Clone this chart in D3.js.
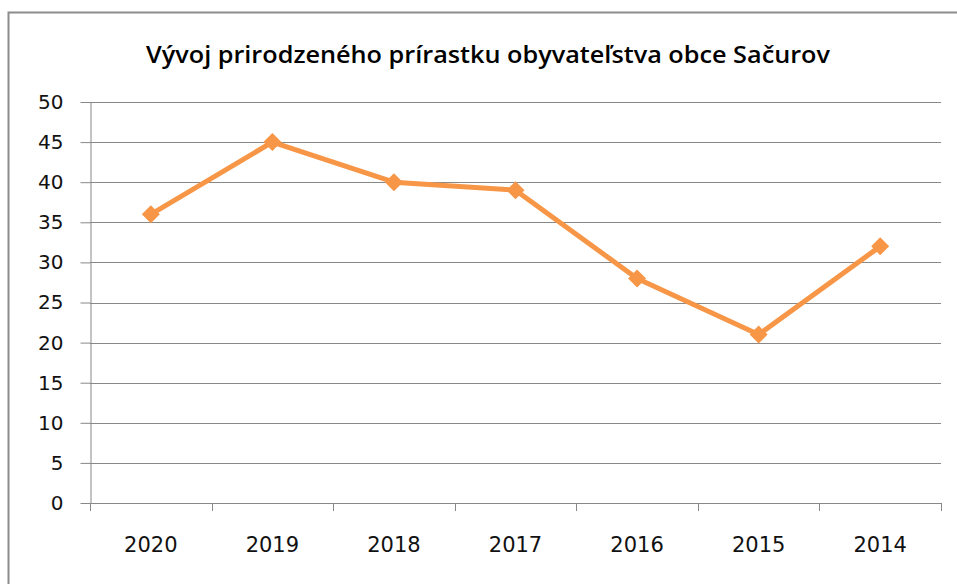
<!DOCTYPE html>
<html><head><meta charset="utf-8">
<script src="https://cdn.jsdelivr.net/npm/d3@7"></script>
<style>html,body{margin:0;padding:0;background:#fff;}</style>
</head><body>
<script>
const categories = ["2020","2019","2018","2017","2016","2015","2014"];
const values = [36,45,40,39,28,21,32];
const yTicks = [0,5,10,15,20,25,30,35,40,45,50];
const title = "Vývoj prirodzeného prírastku obyvateľstva obce Sačurov";

(function(){
const W=957,H=584;
const svg=d3.select("body").append("svg").attr("width",W).attr("height",H);
svg.append("rect").attr("x",8.5).attr("y",12.5).attr("width",W).attr("height",H).attr("fill","#fff").attr("stroke","#8c8c8c").attr("stroke-width",2);

const pl=90,pr=941,pt=102,pb=503;
const x=d3.scaleBand().domain(categories).range([pl,pr]);
const y=d3.scaleLinear().domain([0,50]).range([pb,pt]);

svg.append("text").attr("x",488).attr("y",63).attr("text-anchor","middle")
  .attr("font-family","Open Sans").attr("font-weight",600).attr("font-size",23.5)
  .attr("fill","#000").attr("textLength",684).attr("lengthAdjust","spacingAndGlyphs").text(title);

svg.append("g").selectAll("line").data(yTicks.filter(d=>d>0)).join("line")
  .attr("x1",pl).attr("x2",pr).attr("y1",d=>Math.round(y(d))+0.5).attr("y2",d=>Math.round(y(d))+0.5)
  .attr("stroke","#888").attr("stroke-width",1);

const ya=svg.append("g").attr("transform",`translate(${pl+0.5},0)`)
  .call(d3.axisLeft(y).tickValues(yTicks).tickSize(10).tickSizeOuter(0).tickPadding(17));
const xa=svg.append("g").attr("transform",`translate(0,${pb+0.5})`)
  .call(d3.axisBottom(x).tickSize(0).tickPadding(34));
const bounds=categories.map(c=>x(c)).concat([pr]);
svg.append("g").selectAll("line").data(bounds).join("line")
  .attr("x1",d=>Math.round(d)+0.5).attr("x2",d=>Math.round(d)+0.5)
  .attr("y1",pb).attr("y2",pb+8).attr("stroke","#888");
[ya,xa].forEach(a=>{
  a.selectAll("path,line").attr("stroke","#888");
  a.selectAll("text").attr("font-family","DejaVu Sans").attr("font-size",20).attr("fill","#111");
});
xa.selectAll("text").attr("font-size",21);
xa.select("path.domain").attr("d",`M${pl},0H${pr}`);

const cx=d=>x(d)+x.bandwidth()/2;
const line=d3.line().x((d,i)=>cx(categories[i])).y(d=>y(d));
svg.append("path").datum(values).attr("d",line).attr("fill","none")
  .attr("stroke","#F79646").attr("stroke-width",5).attr("stroke-linejoin","round");
svg.append("g").selectAll("path").data(values).join("path")
  .attr("transform",(d,i)=>`translate(${cx(categories[i])},${y(d)})`)
  .attr("d","M0,-9L9,0L0,9L-9,0Z").attr("fill","#F79646");
})();
</script>
</body></html>
